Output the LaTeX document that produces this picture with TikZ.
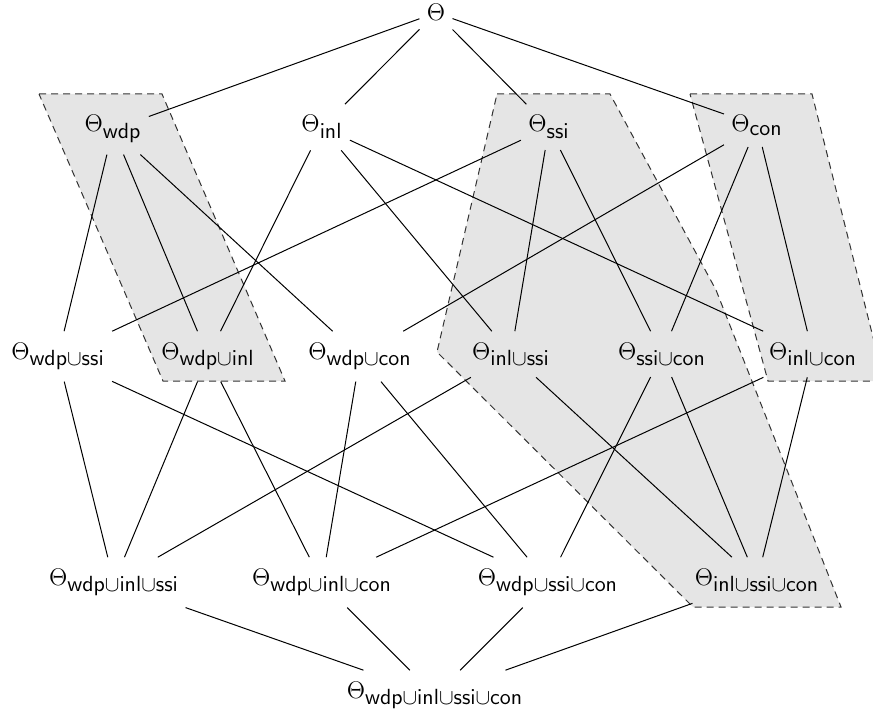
\documentclass[tikz,border=0pt]{standalone}
\DeclareMathSizes{12.5}{12.5}{11.2}{8}
\newcommand{\thsub}[1]{$\Theta_{\mathsf{#1}}$}
\begin{document}
\begin{tikzpicture}[x=0.5pt,y=-0.5pt,
  lat/.style={font=\fontsize{12.5}{15}\selectfont, inner xsep=3.5pt, inner ysep=5.5pt, anchor=base},
  edge/.style={line width=0.5pt},
  region/.style={fill=gray!20, draw=black!80, line width=0.5pt, dash pattern=on 3.5pt off 2.5pt}]
\useasboundingbox (0,0) rectangle (873,711);
% shaded regions
\draw[region] (39,94) -- (162,94) -- (285,381) -- (163,381) -- cycle;
\draw[region] (497,94) -- (610,94) -- (716,290) -- (841,607) -- (693,607) -- (437,352) -- cycle;
\draw[region] (690,94) -- (812,94) -- (884,381) -- (768,381) -- cycle;
% nodes
\node[lat] (e) at (436,21) {$\Theta$};
\node[lat] (w) at (113,132) {\thsub{wdp}};
\node[lat] (i) at (322,132) {\thsub{inl}};
\node[lat] (s) at (549,132) {\thsub{ssi}};
\node[lat] (c) at (757,132) {\thsub{con}};
\node[lat] (ws) at (58,359) {\thsub{wdp\cup ssi}};
\node[lat] (wi) at (208,359) {\thsub{wdp\cup inl}};
\node[lat] (wc) at (360,359) {\thsub{wdp\cup con}};
\node[lat] (is) at (511,359) {\thsub{inl\cup ssi}};
\node[lat] (sc) at (662,359) {\thsub{ssi\cup con}};
\node[lat] (ic) at (813,359) {\thsub{inl\cup con}};
\node[lat] (wis) at (114,585) {\thsub{wdp\cup inl\cup ssi}};
\node[lat] (wic) at (322,585) {\thsub{wdp\cup inl\cup con}};
\node[lat] (wsc) at (548,585) {\thsub{wdp\cup ssi\cup con}};
\node[lat] (isc) at (757,585) {\thsub{inl\cup ssi\cup con}};
\node[lat] (all) at (435,698) {\thsub{wdp\cup inl\cup ssi\cup con}};
% edges
\foreach \a/\b in {e/w,e/i,e/s,e/c,
  w/ws,w/wi,w/wc, i/wi,i/is,i/ic, s/ws,s/is,s/sc, c/wc,c/sc,c/ic,
  ws/wis,ws/wsc, wi/wis,wi/wic, wc/wic,wc/wsc, is/wis,is/isc, sc/wsc,sc/isc, ic/wic,ic/isc,
  wis/all,wic/all,wsc/all,isc/all}
  \draw[edge] (\a) -- (\b);
\end{tikzpicture}
\end{document}
